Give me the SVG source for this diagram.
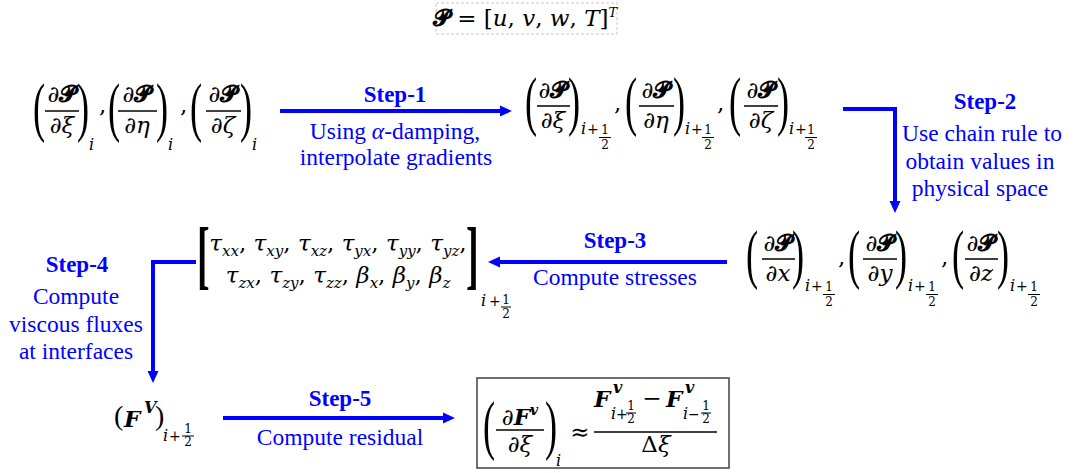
<svg xmlns="http://www.w3.org/2000/svg" width="1081" height="473" viewBox="0 0 1081 473">
<defs>
<style>
text{font-family:"Liberation Serif","Times New Roman",serif;fill:#000}
.m{font-family:"DejaVu Serif","Liberation Serif",serif;font-size:23px}
.it{font-style:italic}
.bi{font-style:italic;font-weight:bold}
.P{font-family:"DejaVu Serif","DejaVu Sans","Noto Sans",serif;font-weight:bold;font-style:normal}
.par{font-size:66px}
.sub{font-family:"DejaVu Serif","Liberation Serif",serif;font-size:16px;font-style:italic}
.pl{font-family:"DejaVu Serif","Liberation Serif",serif;font-size:14px}
.fr{font-family:"DejaVu Serif","Liberation Serif",serif;font-size:12px;text-anchor:middle}
.bar{stroke:#000;stroke-width:1.4}
.bar2{stroke:#000;stroke-width:1}
.step{font-size:23px;font-weight:bold;fill:#0000ff;text-anchor:middle}
.desc{font-size:23.5px;fill:#0000ff;text-anchor:middle}
.arr{stroke:#0000ff;stroke-width:4;fill:none}
.c{text-anchor:middle}
</style>
<marker id="ah" markerUnits="userSpaceOnUse" markerWidth="12" markerHeight="12" refX="2" refY="6" orient="auto">
<path d="M0,0.5 L12,6 L0,11.5 z" fill="#0000ff"/>
</marker>
</defs>
<rect width="1081" height="473" fill="#fff"/>

<g id="node-P">
<rect x="436" y="3" width="181" height="31" fill="#fff" stroke="#c8c8c8" stroke-width="1" stroke-dasharray="3 2"/>
<text class="m c" x="525" y="26" font-size="19"><tspan class="P">𝓟</tspan> = [<tspan class="it">u</tspan>, <tspan class="it">v</tspan>, <tspan class="it">w</tspan>, <tspan class="it">T</tspan>]<tspan class="it" font-size="13" dy="-9">T</tspan></text>
</g>

<g id="node-grad-i">
<text class="par" transform="translate(33,129) scale(0.55,1)">(</text>
<text class="m c" x="62" y="102">∂<tspan class="P">𝓟</tspan></text>
<line class="bar" x1="45" y1="111" x2="79" y2="111"/>
<text class="m c it" x="62" y="133">∂ξ</text>
<text class="par" transform="translate(77,129) scale(0.55,1)">)</text>
<text class="sub" x="89" y="150">i</text>
<text class="m" x="99" y="113">,</text>

<text class="par" transform="translate(108,129) scale(0.55,1)">(</text>
<text class="m c" x="137" y="102">∂<tspan class="P">𝓟</tspan></text>
<line class="bar" x1="118" y1="111" x2="157" y2="111"/>
<text class="m c it" x="137" y="133">∂η</text>
<text class="par" transform="translate(156,129) scale(0.55,1)">)</text>
<text class="sub" x="168" y="150">i</text>
<text class="m" x="180" y="113">,</text>

<text class="par" transform="translate(190,129) scale(0.55,1)">(</text>
<text class="m c" x="223" y="102">∂<tspan class="P">𝓟</tspan></text>
<line class="bar" x1="206" y1="111" x2="241" y2="111"/>
<text class="m c it" x="223" y="133">∂ζ</text>
<text class="par" transform="translate(240,129) scale(0.55,1)">)</text>
<text class="sub" x="252" y="150">i</text>
</g>

<g id="node-grad-half">
<text class="par" transform="translate(525,123) scale(0.55,1)">(</text>
<text class="m c" x="553" y="98">∂<tspan class="P">𝓟</tspan></text>
<line class="bar" x1="537" y1="106" x2="570" y2="106"/>
<text class="m c it" x="553" y="128">∂ξ</text>
<text class="par" transform="translate(568,123) scale(0.55,1)">)</text>
<text class="sub" x="581" y="134">i</text><text class="pl" x="587" y="134">+</text>
<text class="fr" x="605" y="134">1</text><line class="bar2" x1="599" y1="137.5" x2="611" y2="137.5"/><text class="fr" x="605" y="149">2</text>
<text class="m" x="614" y="111">,</text>

<text class="par" transform="translate(625,123) scale(0.55,1)">(</text>
<text class="m c" x="656" y="98">∂<tspan class="P">𝓟</tspan></text>
<line class="bar" x1="639" y1="106" x2="674" y2="106"/>
<text class="m c it" x="656" y="128">∂η</text>
<text class="par" transform="translate(673,123) scale(0.55,1)">)</text>
<text class="sub" x="685" y="134">i</text><text class="pl" x="691" y="134">+</text>
<text class="fr" x="708" y="134">1</text><line class="bar2" x1="702" y1="137.5" x2="714" y2="137.5"/><text class="fr" x="708" y="149">2</text>
<text class="m" x="717" y="111">,</text>

<text class="par" transform="translate(729,123) scale(0.55,1)">(</text>
<text class="m c" x="761" y="98">∂<tspan class="P">𝓟</tspan></text>
<line class="bar" x1="744" y1="106" x2="778" y2="106"/>
<text class="m c it" x="761" y="128">∂ζ</text>
<text class="par" transform="translate(777,123) scale(0.55,1)">)</text>
<text class="sub" x="789" y="134">i</text><text class="pl" x="795" y="134">+</text>
<text class="fr" x="811" y="134">1</text><line class="bar2" x1="805" y1="137.5" x2="817" y2="137.5"/><text class="fr" x="811" y="149">2</text>
</g>

<g id="node-grad-phys">
<text class="par" transform="translate(746,276) scale(0.55,1)">(</text>
<text class="m c" x="778" y="251">∂<tspan class="P">𝓟</tspan></text>
<line class="bar" x1="762" y1="259" x2="795" y2="259"/>
<text class="m c it" x="778" y="281">∂x</text>
<text class="par" transform="translate(792,276) scale(0.55,1)">)</text>
<text class="sub" x="805" y="291">i</text><text class="pl" x="811" y="291">+</text>
<text class="fr" x="829" y="291">1</text><line class="bar2" x1="823" y1="294.5" x2="835" y2="294.5"/><text class="fr" x="829" y="306">2</text>
<text class="m" x="838" y="265">,</text>

<text class="par" transform="translate(848,276) scale(0.55,1)">(</text>
<text class="m c" x="880" y="251">∂<tspan class="P">𝓟</tspan></text>
<line class="bar" x1="863" y1="259" x2="897" y2="259"/>
<text class="m c it" x="880" y="281">∂y</text>
<text class="par" transform="translate(895,276) scale(0.55,1)">)</text>
<text class="sub" x="908" y="291">i</text><text class="pl" x="914" y="291">+</text>
<text class="fr" x="932" y="291">1</text><line class="bar2" x1="926" y1="294.5" x2="938" y2="294.5"/><text class="fr" x="932" y="306">2</text>
<text class="m" x="941" y="265">,</text>

<text class="par" transform="translate(952,276) scale(0.55,1)">(</text>
<text class="m c" x="981" y="251">∂<tspan class="P">𝓟</tspan></text>
<line class="bar" x1="965" y1="259" x2="998" y2="259"/>
<text class="m c it" x="981" y="281">∂z</text>
<text class="par" transform="translate(997,276) scale(0.55,1)">)</text>
<text class="sub" x="1010" y="291">i</text><text class="pl" x="1016" y="291">+</text>
<text class="fr" x="1034" y="291">1</text><line class="bar2" x1="1028" y1="294.5" x2="1040" y2="294.5"/><text class="fr" x="1034" y="306">2</text>
</g>

<g id="node-stresses">
<text font-size="76" font-weight="bold" transform="translate(197,280) scale(0.5,1)">[</text>
<text class="m c" x="338" y="251" font-size="22"><tspan class="it">τ</tspan><tspan class="it" font-size="15" dy="5">xx</tspan><tspan dy="-5">, </tspan><tspan class="it">τ</tspan><tspan class="it" font-size="15" dy="5">xy</tspan><tspan dy="-5">, </tspan><tspan class="it">τ</tspan><tspan class="it" font-size="15" dy="5">xz</tspan><tspan dy="-5">, </tspan><tspan class="it">τ</tspan><tspan class="it" font-size="15" dy="5">yx</tspan><tspan dy="-5">, </tspan><tspan class="it">τ</tspan><tspan class="it" font-size="15" dy="5">yy</tspan><tspan dy="-5">, </tspan><tspan class="it">τ</tspan><tspan class="it" font-size="15" dy="5">yz</tspan><tspan dy="-5">,</tspan></text>
<text class="m c" x="338" y="283" font-size="22"><tspan class="it">τ</tspan><tspan class="it" font-size="15" dy="5">zx</tspan><tspan dy="-5">, </tspan><tspan class="it">τ</tspan><tspan class="it" font-size="15" dy="5">zy</tspan><tspan dy="-5">, </tspan><tspan class="it">τ</tspan><tspan class="it" font-size="15" dy="5">zz</tspan><tspan dy="-5">, </tspan><tspan class="it">β</tspan><tspan class="it" font-size="15" dy="5">x</tspan><tspan dy="-5">, </tspan><tspan class="it">β</tspan><tspan class="it" font-size="15" dy="5">y</tspan><tspan dy="-5">, </tspan><tspan class="it">β</tspan><tspan class="it" font-size="15" dy="5">z</tspan></text>
<text font-size="76" font-weight="bold" transform="translate(466,280) scale(0.5,1)">]</text>
<text class="sub" x="481" y="306" font-size="14">i</text><text class="pl" x="489" y="306" font-size="13">+</text>
<text class="fr" x="506" y="304" font-size="11">1</text><line class="bar2" x1="501" y1="307" x2="511" y2="307"/><text class="fr" x="506" y="318" font-size="11">2</text>
</g>

<g id="node-flux">
<text font-size="28" x="114" y="425">(</text>
<text class="m bi" x="124" y="427" font-size="22">F</text>
<text class="sub bi" x="144" y="413" font-size="13">V</text>
<text font-size="28" x="155" y="425">)</text>
<text class="sub" x="163" y="441">i</text><text class="pl" x="169" y="441">+</text>
<text class="fr" x="188" y="433">1</text><line class="bar2" x1="182" y1="436" x2="194" y2="436"/><text class="fr" x="188" y="446">2</text>
</g>

<g id="node-residual">
<rect x="477" y="378" width="252" height="90" fill="#fff" stroke="#404040" stroke-width="1.5"/>
<text class="par" transform="translate(483,447) scale(0.55,1)">(</text>
<text class="m c" x="520" y="425"><tspan class="it">∂</tspan><tspan class="bi">F</tspan><tspan class="bi" font-size="14" dy="-10">v</tspan></text>
<line class="bar" x1="496" y1="430" x2="544" y2="430"/>
<text class="m c it" x="520" y="452">∂ξ</text>
<text class="par" transform="translate(545,447) scale(0.55,1)">)</text>
<text class="sub" x="556" y="466">i</text>
<text class="m c" x="580" y="440">≈</text>
<text class="m bi" x="594" y="407" font-size="22">F</text>
<text class="sub bi" x="613" y="393" font-size="13">v</text>
<text class="sub" x="611" y="419" font-size="13">i</text><text class="pl" x="616" y="419" font-size="12">+</text>
<text class="fr" x="631" y="410" font-size="10">1</text><line class="bar2" x1="626" y1="413" x2="636" y2="413"/><text class="fr" x="631" y="423" font-size="10">2</text>
<text class="m c" x="652" y="406" font-size="20">−</text>
<text class="m bi" x="666" y="407" font-size="22">F</text>
<text class="sub bi" x="685" y="393" font-size="13">v</text>
<text class="sub" x="683" y="419" font-size="13">i</text><text class="pl" x="688" y="419" font-size="12">−</text>
<text class="fr" x="706" y="410" font-size="10">1</text><line class="bar2" x1="701" y1="413" x2="711" y2="413"/><text class="fr" x="706" y="423" font-size="10">2</text>
<line class="bar" x1="594" y1="432" x2="717" y2="432"/>
<text class="m c" x="656" y="452">Δ<tspan class="it">ξ</tspan></text>
</g>

<g id="connectors">
<g id="step-1">
<line class="arr" x1="280" y1="111" x2="502" y2="111" marker-end="url(#ah)"/>
<text class="step" x="395" y="102">Step-1</text>
<text class="desc" x="395" y="139">Using <tspan font-style="italic">α</tspan>-damping,</text>
<text class="desc" x="396" y="165">interpolate gradients</text>
</g>
<g id="step-2">
<polyline class="arr" points="843,109 895,109 895,203" marker-end="url(#ah)"/>
<text class="step" x="985" y="109">Step-2</text>
<text class="desc" x="982" y="141">Use chain rule to</text>
<text class="desc" x="980" y="169">obtain values in</text>
<text class="desc" x="980" y="196">physical space</text>
</g>
<g id="step-3">
<line class="arr" x1="727" y1="262" x2="498" y2="262" marker-end="url(#ah)"/>
<text class="step" x="615" y="248">Step-3</text>
<text class="desc" x="615" y="285">Compute stresses</text>
</g>
<g id="step-4">
<polyline class="arr" points="196,262 153,262 153,373" marker-end="url(#ah)"/>
<text class="step" x="77" y="272">Step-4</text>
<text class="desc" x="76" y="304">Compute</text>
<text class="desc" x="76" y="332">viscous fluxes</text>
<text class="desc" x="76" y="359">at interfaces</text>
</g>
<g id="step-5">
<line class="arr" x1="223" y1="418" x2="445" y2="418" marker-end="url(#ah)"/>
<text class="step" x="340" y="406">Step-5</text>
<text class="desc" x="340" y="445">Compute residual</text>
</g>
</g>
</svg>
